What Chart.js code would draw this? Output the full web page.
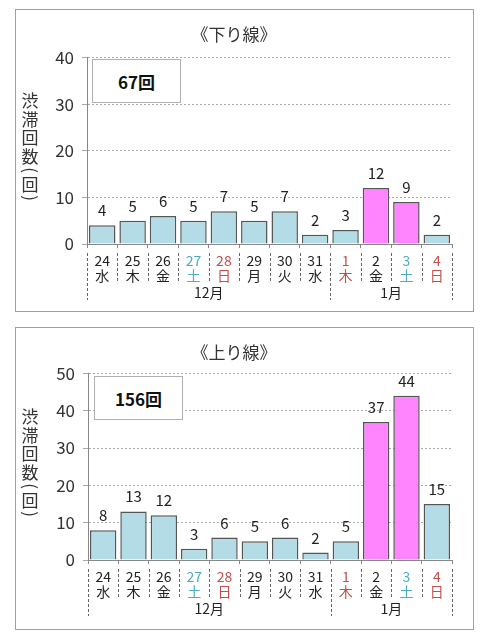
<!DOCTYPE html>
<html>
<head>
<meta charset="utf-8">
<script src="https://cdn.jsdelivr.net/npm/chart.js@4"></script>
<style>
  body { margin: 0; background: #fff; }
  .frame { position: absolute; left: 15px; width: 457px; height: 301px; border: 1px solid #a0a0a0; background: #fff; }
  .total { position: absolute; box-sizing: border-box; width: 89px; height: 44px; border: 1px solid #b0b0b0; background: #fff;
           display: flex; align-items: center; justify-content: center;
           font: bold 17px "Noto Sans CJK JP", sans-serif; color: #111; }
</style>
</head>
<body>
<div class="frame" style="top:9px">
  <canvas id="downChart"></canvas>
  <div class="total" id="downTotal" style="left:76px;top:49px"></div>
</div>
<div class="frame" style="top:327px">
  <canvas id="upChart"></canvas>
  <div class="total" id="upTotal" style="left:78px;top:48px"></div>
</div>
<script>
// data
const days = ['24', '25', '26', '27', '28', '29', '30', '31', '1', '2', '3', '4'];
const weekdays = ['水', '木', '金', '土', '日', '月', '火', '水', '木', '金', '土', '日'];
const months = ['12月', '1月'];
const monthLengths = [8, 4];
const downCounts = [4, 5, 6, 5, 7, 5, 7, 2, 3, 12, 9, 2];
const upCounts = [8, 13, 12, 3, 6, 5, 6, 2, 5, 37, 44, 15];
const downMax = 40;
const upMax = 50;
const peakDays = [9, 10];     // 2金, 3土
const holidays = [8];         // 1木 (元日)
const yTitle = ['渋', '滞', '回', '数', '(', '回', ')'];

const FONT = '"Noto Sans CJK JP", sans-serif';
const BLUE = '#b4dce6';
const PINK = '#ff85ff';
const SAT = '#4bacc6';
const HOL = '#c0504d';
const INK = '#222';

function dayColor(i) {
  if (weekdays[i] === '土') return SAT;
  if (weekdays[i] === '日' || holidays.includes(i)) return HOL;
  return INK;
}

// value labels above bars
const valueLabels = {
  id: 'valueLabels',
  afterDatasetsDraw(chart) {
    const ctx = chart.ctx;
    const meta = chart.getDatasetMeta(0);
    const vals = chart.data.datasets[0].data;
    ctx.save();
    ctx.font = '15px ' + FONT;
    ctx.fillStyle = INK;
    ctx.textAlign = 'center';
    ctx.textBaseline = 'alphabetic';
    meta.data.forEach((bar, i) => ctx.fillText(vals[i], bar.x, bar.y - 9));
    ctx.restore();
  }
};

// separators under the axis + month row + vertical y title
const dateRows = {
  id: 'dateRows',
  afterDraw(chart) {
    const ctx = chart.ctx;
    const x = chart.scales.x;
    const base = chart.chartArea.bottom;
    const w = x.getPixelForValue(1) - x.getPixelForValue(0);
    const left = x.getPixelForValue(0) - w / 2;
    const longAt = [0];
    monthLengths.reduce((s, n) => { longAt.push(s + n); return s + n; }, 0);

    ctx.save();
    ctx.strokeStyle = '#666';
    ctx.lineWidth = 1;
    ctx.setLineDash([3, 2]);
    for (let i = 0; i <= days.length; i++) {
      const bx = Math.round(left + i * w) + 0.5;
      ctx.beginPath();
      ctx.moveTo(bx, base + 9);
      ctx.lineTo(bx, base + (longAt.includes(i) ? 56 : 39));
      ctx.stroke();
    }
    ctx.setLineDash([]);

    ctx.font = '14px ' + FONT;
    ctx.fillStyle = INK;
    ctx.textAlign = 'center';
    ctx.textBaseline = 'middle';
    let start = 0;
    months.forEach((m, k) => {
      const cx = x.getPixelForValue(start) + (monthLengths[k] - 1) * w / 2;
      ctx.fillText(m, cx, base + 49);
      start += monthLengths[k];
    });

    // y title, stacked vertically; brackets turned a quarter
    ctx.font = '17px ' + FONT;
    ctx.fillStyle = '#333';
    const area = chart.chartArea;
    let y = (area.top + area.bottom) / 2 - 50;
    yTitle.forEach((c, i) => {
      const paren = c === '(' || c === ')';
      if (paren) {
        ctx.save();
        ctx.translate(14, y);
        ctx.rotate(Math.PI / 2);
        ctx.fillText(c, 0, 0);
        ctx.restore();
      } else {
        ctx.fillText(c, 14, y);
      }
      const next = yTitle[i + 1];
      y += (paren || next === '(' || next === ')') ? 14 : 18.5;
    });
    ctx.restore();
  }
};

function makeChart(id, title, counts, yMax, plotLeft, titleGap, axisHeight) {
  const colors = counts.map((v, i) => peakDays.includes(i) ? PINK : BLUE);
  return new Chart(document.getElementById(id).getContext('2d'), {
    type: 'bar',
    data: {
      labels: days.map((d, i) => [d, weekdays[i]]),
      datasets: [{
        data: counts,
        backgroundColor: colors,
        borderColor: '#555',
        borderWidth: 1.5,
        barPercentage: 0.87,
        categoryPercentage: 1
      }]
    },
    options: {
      responsive: true,
      maintainAspectRatio: false,
      animation: false,
      layout: { padding: { left: 0, right: 21, top: 0, bottom: 0 } },
      plugins: {
        legend: { display: false },
        tooltip: { enabled: false },
        title: {
          display: true,
          text: title,
          color: '#333',
          font: { size: 17, family: FONT, weight: 'normal' },
          padding: { top: 14, bottom: titleGap }
        }
      },
      scales: {
        x: {
          grid: { drawOnChartArea: false, drawTicks: true, tickLength: 4, color: '#888', offset: true },
          border: { color: '#888', width: 1 },
          ticks: {
            autoSkip: false,
            maxRotation: 0,
            padding: 5,
            font: { size: 14, family: FONT, lineHeight: 1.1 },
            color: (c) => dayColor(c.index)
          },
          afterFit: (s) => { s.height = axisHeight; }
        },
        y: {
          min: 0,
          max: yMax,
          ticks: { stepSize: 10, padding: 8, color: '#333', font: { size: 17, family: FONT } },
          grid: { color: '#aaa', tickLength: 5, drawTicks: true },
          border: { color: '#888', width: 1, dash: [2, 2] },
          afterFit: (s) => { s.width = plotLeft; }
        }
      }
    },
    plugins: [valueLabels, dateRows]
  });
}

document.getElementById('downTotal').textContent = downCounts.reduce((a, b) => a + b, 0) + '回';
document.getElementById('upTotal').textContent = upCounts.reduce((a, b) => a + b, 0) + '回';

makeChart('downChart', '《下り線》', downCounts, downMax, 71, 13, 67);
makeChart('upChart', '《上り線》', upCounts, upMax, 72, 11, 69);
</script>
</body>
</html>
